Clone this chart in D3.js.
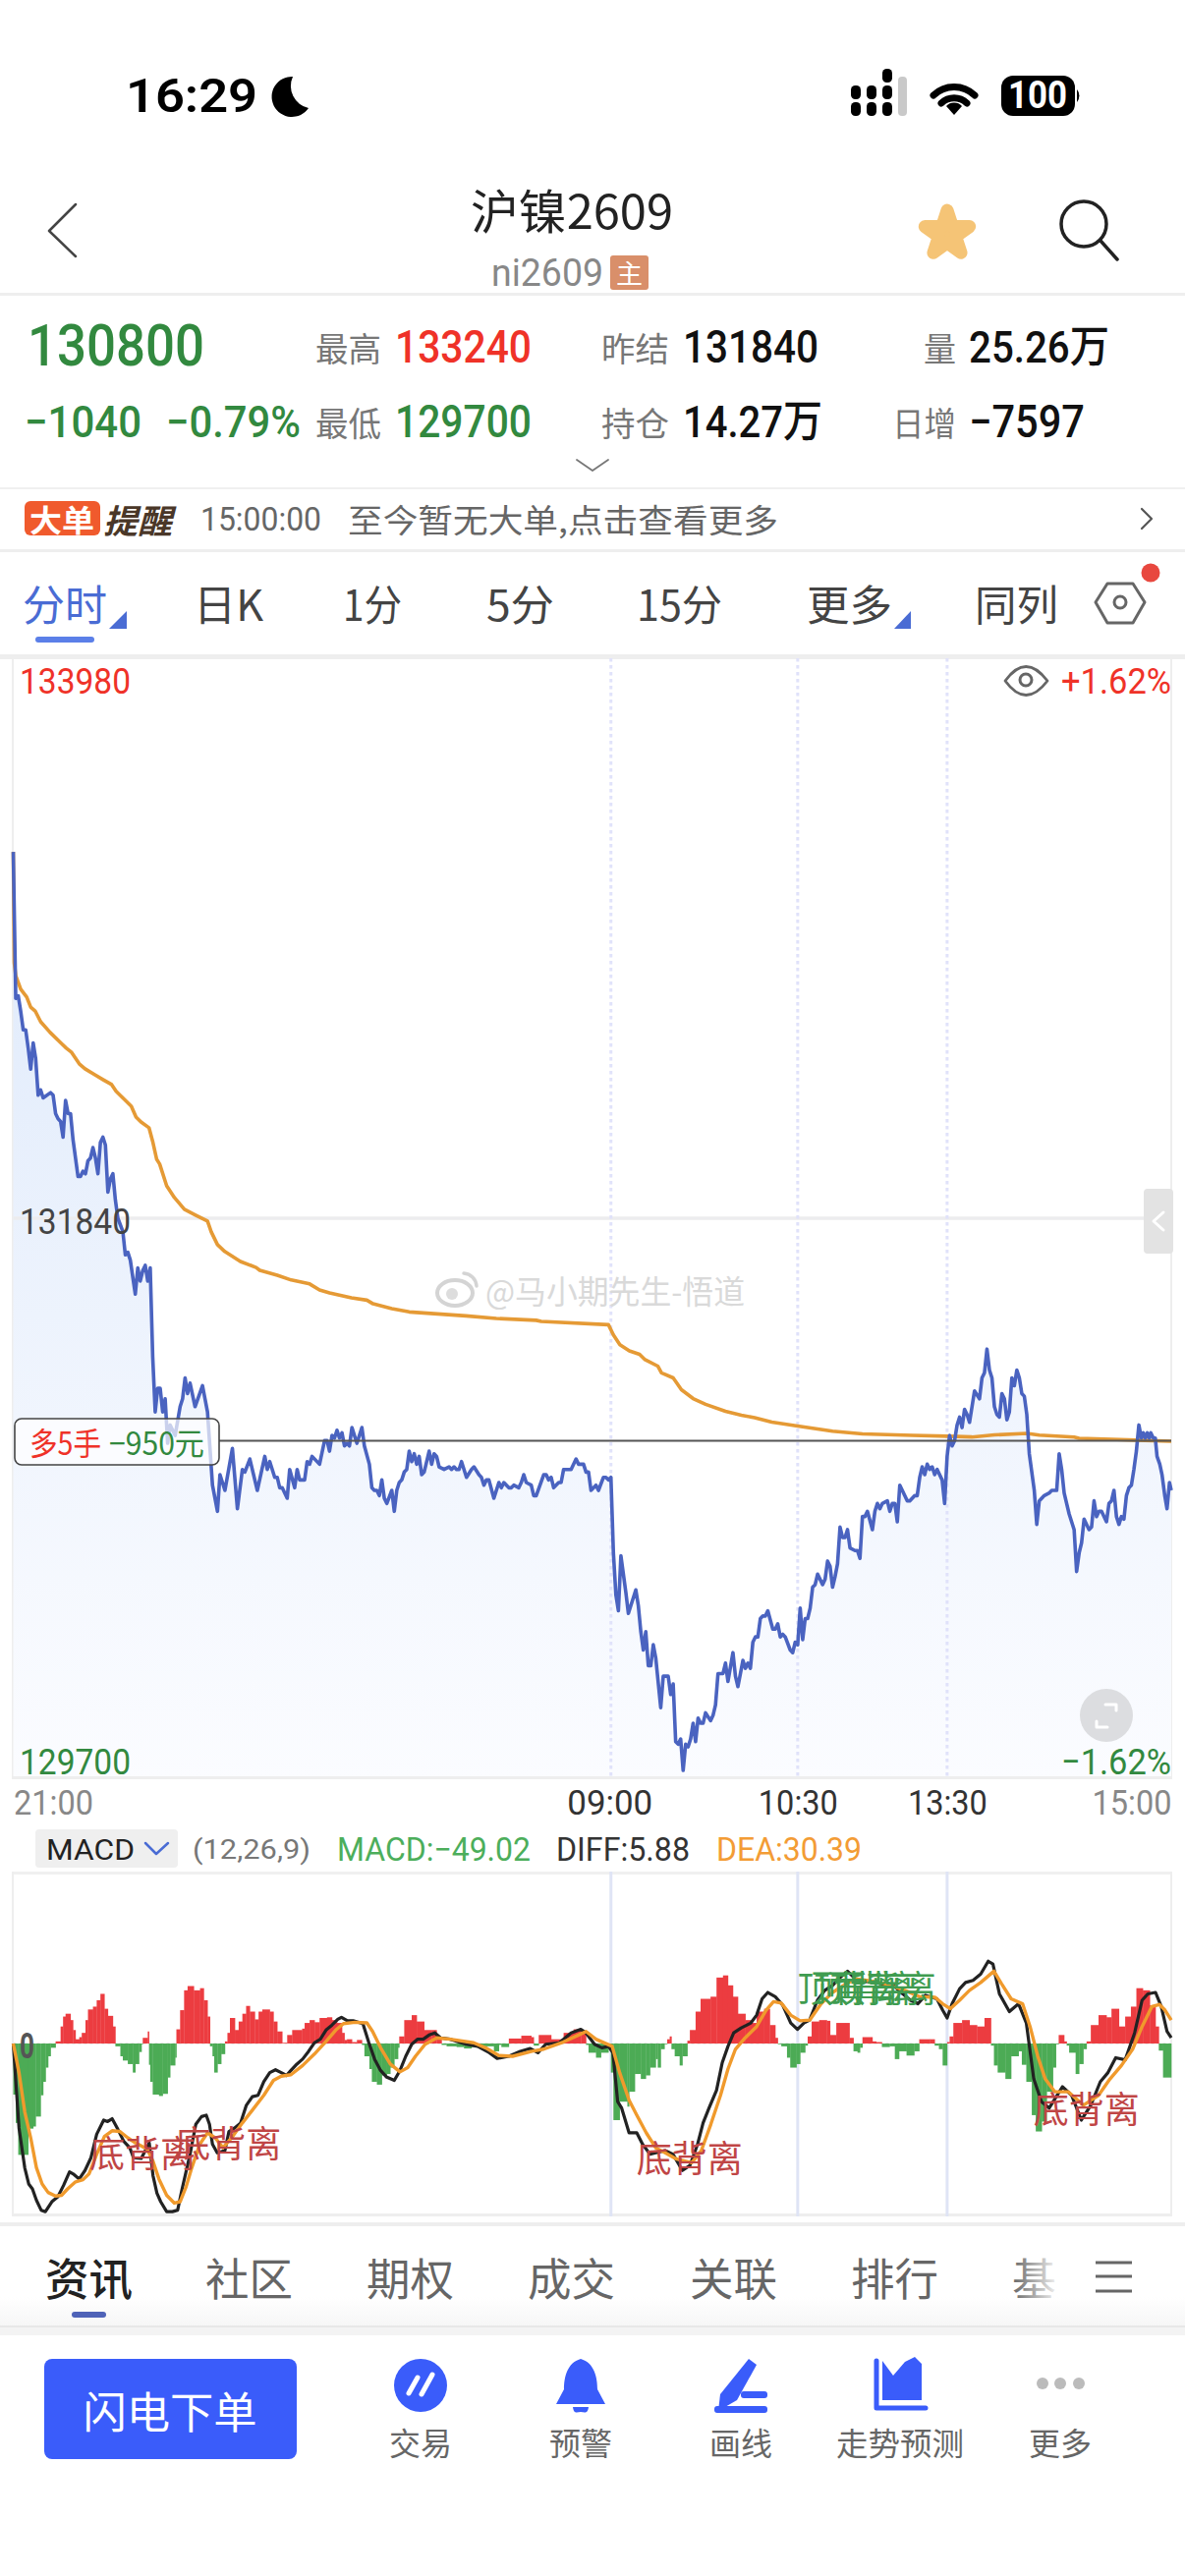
<!DOCTYPE html>
<html>
<head>
<meta charset="utf-8">
<style>
  html, body { margin: 0; padding: 0; background: #fff; }
  svg { display: block; }
</style>
<script src="https://cdn.jsdelivr.net/npm/d3@7"></script>
</head>
<body>
<svg id="page" width="1206" height="2622" viewBox="0 0 1206 2622"></svg>
<script>
// [minute since 21:00, price]
var priceTrace = [[0,133240],[1,132680],[2,132690],[3,132630],[4,132560],[5,132560],[6,132490],[7,132410],[8,132510],[9,132450],[10,132310],[11,132330],[12,132300],[15,132320],[16,132310],[17,132240],[18,132220],[19,132210],[20,132150],[21,132290],[22,132240],[23,132240],[24,132140],[26,132000],[27,132000],[28,132020],[29,132010],[30,132060],[31,132070],[32,132110],[33,132070],[34,132010],[35,132130],[36,132150],[37,132120],[38,131940],[39,131990],[40,132010],[41,131910],[42,131840],[44,131790],[45,131700],[46,131710],[47,131680],[49,131550],[50,131650],[51,131600],[52,131640],[53,131660],[54,131600],[55,131650],[56,131310],[57,131100],[58,131190],[59,131190],[60,131100],[61,131150],[62,130980],[63,131050],[65,131010],[67,131120],[68,131150],[69,131230],[70,131170],[71,131210],[73,131120],[76,131200],[78,131100],[80,130820],[82,130720],[83,130860],[85,130800],[88,130960],[90,130730],[92,130880],[93,130870],[95,130920],[98,130800],[101,130930],[102,130880],[103,130910],[105,130850],[106,130850],[107,130810],[108,130810],[110,130770],[111,130880],[113,130810],[114,130880],[115,130840],[117,130840],[118,130910],[119,130900],[120,130930],[123,130900],[125,130990],[126,130990],[127,130950],[128,131010],[129,131000],[130,131030],[131,131000],[132,131020],[133,130970],[134,130980],[135,130970],[136,131040],[138,130980],[140,131040],[141,130970],[143,130900],[144,130810],[145,130800],[146,130800],[147,130780],[148,130840],[149,130770],[150,130750],[152,130800],[153,130720],[154,130800],[155,130830],[156,130840],[157,130870],[158,130880],[159,130950],[160,130910],[161,130940],[162,130900],[163,130930],[164,130860],[165,130870],[167,130950],[168,130900],[169,130940],[170,130930],[171,130890],[173,130880],[175,130890],[176,130880],[177,130890],[178,130880],[179,130880],[180,130910],[182,130850],[184,130880],[185,130890],[187,130860],[188,130850],[189,130820],[190,130840],[191,130840],[193,130770],[195,130830],[196,130810],[197,130830],[199,130810],[200,130810],[201,130820],[203,130810],[204,130830],[205,130860],[206,130830],[208,130820],[209,130780],[210,130780],[213,130860],[214,130860],[215,130840],[216,130850],[217,130810],[219,130830],[220,130830],[221,130880],[224,130880],[226,130920],[227,130900],[229,130900],[230,130870],[231,130870],[232,130800],[234,130820],[235,130800],[237,130850],[238,130850],[239,130840],[240,130850],
[241,130560],[242,130400],[243,130340],[244,130550],[246,130410],[247,130330],[250,130420],[251,130360],[252,130260],[253,130190],[254,130260],[255,130130],[256,130130],[257,130210],[258,130160],[260,129970],[261,130090],[262,130090],[263,130090],[264,130020],[265,130060],[266,129840],[267,129830],[268,129850],[269,129730],[270,129830],[271,129820],[272,129850],[273,129910],[274,129840],[275,129930],[276,129910],[277,129910],[278,129950],[280,129920],[281,129940],[282,129980],[283,130100],[285,130100],[286,130140],[287,130070],[289,130180],[290,130090],[291,130050],[293,130150],[294,130120],[295,130140],[296,130120],[297,130220],[298,130240],[299,130240],[300,130310],[301,130320],[302,130320],[303,130340],[305,130270],[306,130270],[307,130290],[308,130240],[309,130250],[310,130240],[312,130190],[313,130180],[314,130220],[315,130210],[316,130350],[317,130230],[318,130310],[319,130310],[320,130350],[321,130430],[322,130440],[323,130480],[325,130440],[326,130460],[327,130530],[328,130510],[329,130430],[330,130470],[331,130520],[332,130660],[333,130620],[334,130620],[335,130650],[336,130580],[338,130570],[339,130570],[340,130540],[341,130700],[342,130700],[343,130720],[345,130650],[346,130720],[347,130750],[348,130730],[349,130750],[351,130760],[352,130720],[353,130750],[354,130750],[355,130680],[356,130820],[357,130800],[359,130760],[360,130760],[362,130780],[363,130780],[364,130850],[365,130890],[366,130860],[367,130900],[368,130880],[369,130890],[370,130860],[371,130880],[373,130840],[374,130750],
[375,130930],[376,131010],[377,130970],[378,130990],[379,131050],[380,131080],[381,131040],[382,131110],[383,131090],[384,131060],[386,131180],[388,131150],[389,131230],[390,131250],[391,131340],[392,131260],[393,131230],[394,131120],[395,131090],[396,131080],[397,131170],[398,131150],[399,131070],[400,131100],[401,131230],[402,131200],[403,131260],[404,131230],[405,131170],[406,131160],[407,131090],[408,130940],[410,130800],[411,130670],[412,130760],[414,130780],[416,130790],[417,130800],[419,130800],[420,130940],[421,130880],[422,130790],[423,130750],[424,130710],[425,130680],[426,130650],[427,130490],[428,130560],[429,130600],[430,130690],[432,130650],[433,130660],[434,130760],[435,130700],[436,130720],[437,130720],[439,130680],[440,130750],[441,130760],[442,130800],[443,130700],[444,130670],[445,130700],[446,130690],[447,130780],[448,130810],[449,130820],[450,130880],[451,130950],[452,131050],[453,131000],[453.8,131020],[454.6,131000],[455.4,131020],[456.2,131000],[456.8,131020],[457.8,131000],[458.6,131000],[459.3,130930],[460.4,130900],[461.3,130860],[462.4,130780],[463.3,130730],[464.3,130830],[465,130800]];

// average price line
var vwapTrace = [[0,133240],[0.4,132816],[1,132767],[3,132715],[5.4,132685],[7,132647],[8.8,132632],[11,132591],[14.8,132550],[19.3,132508],[21.3,132490],[23.3,132475],[26.5,132430],[28.8,132411],[32.8,132388],[36,132370],[39.5,132351],[41.3,132325],[47.4,132268],[49.3,132227],[51.3,132208],[54.5,132186],[56,132133],[57.6,132065],[58.8,132047],[61.6,131964],[64.7,131919],[68.7,131874],[73.4,131851],[78,131829],[79.5,131788],[82,131739],[84.9,131713],[91.2,131675],[97.5,131652],[99,131641],[106,131622],[111.6,131604],[119,131589],[123,131566],[127,131555],[135.8,131536],[142,131527],[144.5,131513],[152,131495],[159,131482],[181.8,131467],[194,131457],[210,131450],[212,131446],[239,131433],[241,131394],[243.6,131357],[247.4,131333],[251.5,131320],[253.5,131301],[258.8,131275],[260.3,131249],[265,131230],[268.3,131185],[273,131151],[278,131129],[286,131102],[292.4,131087],[297.7,131078],[304.6,131061],[315,131046],[329,131026],[341,131016],[361,131010],[375.4,131007],[385,131004],[394,131012],[407,131018],[412,131011],[426,131004],[428,130999],[438,130996],[451,130992],[465,130988]];

// MACD histogram, each value holds until the next minute listed
var macdBars = [[0,-72],[1,-112],[2,-157],[6,-120],[8,-117],[9,-103],[11,-73],[12,-54],[13,-34],[14,-18],[15,-6],[17,3],[19,24],[20,38],[21,42],[23,33],[24,19],[25,6],[26.5,9],[27.5,15],[29,33],[30,48],[32,52],[33.5,61],[35,70],[36.6,49],[38,39],[40,24],[41,-4],[43,-18],[44,-24],[46,-29],[48,-41],[49,-29],[50.5,-12],[51.5,-1],[52,8],[54,17],[54.5,-30],[55,-54],[56,-72],[58.5,-74],[60,-71],[62,-48],[63,-31],[65,-20],[65.5,20],[67,47],[68.6,75],[70,81],[72.5,75],[75,78],[76.5,61],[78,38],[79,-4],[80,-18],[80.7,-41],[82,-29],[83.5,-15],[85,3],[86,15],[87,36],[89,19],[90.5,31],[92,42],[93.5,53],[95,45],[97,34],[98.5,45],[100,48],[103,45],[104.5,31],[106,17],[108,1],[110,12],[112,19],[116,21],[117,29],[119,33],[121,30],[123,36],[126,37],[128,33],[130,29],[132,15],[133,5],[134,6],[136,2],[138,5],[140,-2],[141,-18],[143,-36],[144,-54],[146,-58],[148,-45],[150,-43],[151.4,-34],[153,-22],[154.5,-6],[155,10],[157,33],[160,40],[162,31],[165,19],[168,19],[170,6],[172,-2],[174,-4],[178,-5],[181,-7],[184,-5],[188,-4],[193,-11],[195,-2],[196,-5],[199,7],[204,11],[208,9],[209,-3],[211,12],[216,6],[221,15],[225,20],[228,15],[230,-2],[231,-13],[234,-20],[236,-13],[239,-3],
[240,-41],[241,-108],[243.5,-82],[246.6,-89],[247.3,-68],[249.6,-43],[252,-50],[254,-45],[255.7,-34],[258,-22],[258.8,-34],[260,-8],[261.5,-1],[262.6,6],[263.6,10],[264.3,-8],[265.6,-18],[267.6,-31],[268.7,-18],[270.7,4],[271.7,19],[274,45],[276,63],[280,66],[282.4,93],[285,96],[287,82],[289,66],[291,42],[294,33],[296,29],[298.5,45],[301.5,49],[303.8,26],[306,8],[307,-1],[308.4,-4],[310.7,-20],[312,-34],[314.5,-29],[316,-13],[318,-3],[319,10],[320.6,31],[323.6,33],[326.7,32],[328,12],[330.5,29],[334.3,29],[335.8,8],[337.4,-11],[339,-13],[340,-6],[341,9],[345,3],[346.5,2],[348.8,-5],[351.9,-4],[354,-22],[355.7,-11],[358.7,-17],[361.8,-11],[363.8,6],[368,6],[370,-3],[371.7,-8],[373.2,-31],[375,2],[376,10],[377.5,29],[381,33],[384,26],[387,24],[390,36],[392.6,-3],[393.8,-31],[395.3,-41],[398.4,-50],[400.7,-18],[403.7,-11],[405,-30],[406.8,-54],[409,-101],[410.6,-124],[413,-110],[415,-68],[417.5,-34],[418.7,-1],[419.8,12],[422,3],[423,-3],[424,-13],[426.6,-43],[428,-29],[429.7,-8],[431,3],[432.7,26],[435.8,40],[439,37],[441,49],[444,24],[446.5,38],[448.8,52],[451,78],[453.6,75],[456.4,54],[458.7,24],[460,-10],[461.7,-48],[465,-48]];

var diffTrace = [[0,0],[2.3,-119],[4.6,-175],[6.2,-198],[7.7,-205],[9.3,-221],[11.2,-235],[12.9,-237],[15.5,-223],[17.9,-216],[20.2,-200],[22.6,-181],[24.1,-184],[26.5,-191],[28.8,-179],[31.2,-161],[33.5,-128],[36.3,-108],[37.9,-110],[39.7,-106],[42,-121],[44.4,-138],[46.8,-147],[48.3,-161],[51.4,-162],[54.6,-140],[56.1,-186],[57.7,-211],[59.2,-223],[61.6,-237],[63.9,-237],[66,-235],[67.8,-205],[71,-156],[73.3,-114],[75.6,-103],[77.5,-101],[78.8,-114],[80,-142],[81.9,-154],[85,-151],[86.6,-124],[88.9,-119],[91.3,-112],[93.6,-87],[96,-75],[98.3,-73],[100.6,-54],[103,-41],[105.3,-37],[107.6,-41],[109.7,-45],[111.5,-38],[113.9,-29],[116.2,-22],[118.6,-11],[120.9,1],[123.3,6],[125.6,19],[128,26],[130.3,34],[131.8,37],[134.2,32],[136.5,32],[140.4,28],[142.8,1],[145.1,-22],[147.5,-38],[149.8,-47],[153,-52],[155.3,-38],[157.6,-18],[160,-1],[162.3,6],[164.6,6],[167,12],[169.3,15],[171.6,8],[175.5,6],[181.8,-1],[186.5,-4],[191.2,-13],[194.3,-21],[199,-18],[203.6,-11],[207.6,-7],[210.7,-13],[213.8,-1],[219.3,1],[224,15],[227.9,20],[230,15],[233.4,-1],[236.4,-6],[239,-4],[240.8,-13],[242.7,-82],[244.3,-91],[247.3,-126],[250.4,-126],[252.7,-142],[255.7,-156],[258,-154],[261.8,-151],[264.9,-156],[268.7,-179],[271.7,-172],[274.8,-142],[277,-112],[279.4,-91],[282.4,-66],[284.7,-27],[287,-4],[289.3,15],[292.3,22],[296.2,29],[298.5,40],[300.7,63],[303,72],[306,66],[309,54],[312.2,29],[314.9,20],[317.5,29],[319.8,33],[322.9,61],[325.9,75],[329,82],[332,93],[335,102],[339.6,86],[344.2,88],[348.8,84],[353.4,82],[357.2,70],[360.3,61],[363.3,56],[366.3,68],[370.9,63],[373.2,47],[375,36],[377,56],[380,77],[382.4,86],[385.4,89],[388.5,98],[391.5,116],[393.4,112],[396,70],[400,45],[403.7,56],[406.8,29],[409.8,-50],[412.9,-82],[416,-91],[421.3,-61],[425,-73],[428.9,-108],[432.7,-87],[436.5,-54],[439.6,-41],[442.7,-20],[446.5,-23],[450.3,15],[453.3,61],[455.6,70],[458.7,72],[461,52],[463.3,17],[465,8]];

var deaTrace = [[0,0],[2.3,-41],[4.6,-96],[7,-133],[9.3,-175],[11.6,-198],[14,-210],[17,-215],[19.4,-214],[21.8,-205],[25,-195],[28,-192],[30.4,-184],[33.5,-156],[36.6,-131],[39.7,-123],[42.8,-124],[46,-133],[49,-140],[53.8,-149],[56,-165],[58.5,-191],[61.6,-214],[64.7,-225],[67,-223],[69.4,-202],[71.7,-175],[74.9,-142],[78,-126],[81.1,-133],[84.2,-147],[88.1,-131],[92,-112],[96,-94],[100.6,-73],[104.5,-52],[107.6,-46],[111.5,-44],[116.2,-31],[120.9,-15],[125.6,3],[129.5,19],[132.6,28],[137.3,30],[142,29],[144.3,17],[147.5,-6],[151.4,-29],[155.3,-40],[158.4,-34],[161.5,-18],[165.4,-1],[170.1,8],[175.5,6],[184.9,1],[189.6,-6],[195,-17],[200.5,-18],[208.3,-11],[213,-8],[220.8,2],[227,12],[230,17],[234,6],[240.5,-4],[243.5,-41],[247.3,-80],[250.4,-101],[254.2,-126],[258,-147],[261.8,-154],[266.4,-163],[272.5,-168],[276.3,-151],[280.1,-114],[284,-73],[287,-36],[290,-8],[293.9,8],[298.5,24],[302.3,47],[305.3,59],[308.4,57],[312.2,40],[316,32],[319.8,33],[324.4,56],[329,72],[333.5,82],[338.1,91],[342.7,89],[350.3,84],[358,75],[364,66],[370.2,65],[373.2,56],[376.3,49],[380,61],[384,75],[388.5,86],[393.8,102],[396.9,84],[400.7,63],[405.3,56],[408.3,24],[411.4,-18],[414.4,-50],[418.2,-68],[423.6,-68],[429.7,-87],[435.8,-73],[440.4,-50],[445,-31],[449.5,-8],[453.3,24],[457.2,52],[460.2,55],[462.5,47],[465,33]];

var timeTicks = [0, 240, 315, 375, 465];
var timeLabels = ['21:00', '09:00', '10:30', '13:30', '15:00'];
var sessionBreaks = [240, 315, 375];
var priceLow = 129700, priceMid = 131840, priceHigh = 133980, costPrice = 130990;
var macdLimit = 241;
// divergence tags: [minute, MACD value]
var bottomTags = [[30.6,-152],[65,-138],[250.3,-159],[409.7,-90]];
var topTags = [315, 321.5, 328];

var svg = d3.select('#page');
var NUM = 'Roboto, "Noto Sans CJK SC", sans-serif';
var CJK = '"Noto Sans CJK SC", Roboto, sans-serif';

var x = d3.scaleLinear().domain([0, 465]).range([13.5, 1192]);
var y = d3.scaleLinear().domain([priceLow, priceHigh]).range([1810, 670]);
var yMacd = d3.scaleLinear().domain([-macdLimit, macdLimit]).range([2254, 1906]);

// small text helper
function txt(px, py, str, o) {
  o = o || {};
  var t = svg.append('text')
    .attr('x', px).attr('y', py)
    .attr('dominant-baseline', 'central')
    .attr('font-family', o.font || CJK)
    .attr('font-size', o.size || 32)
    .attr('font-weight', o.weight || 400)
    .attr('fill', o.fill || '#222')
    .attr('text-anchor', o.anchor || 'start')
    .text(str);
  if (o.len) t.attr('textLength', o.len).attr('lengthAdjust', 'spacingAndGlyphs');
  if (o.style) t.attr('font-style', o.style);
  if (o.opacity) t.attr('opacity', o.opacity);
  return t;
}
function band(x0, y0, w, h, fill, rx) {
  return svg.append('rect').attr('x', x0).attr('y', y0).attr('width', w).attr('height', h)
    .attr('fill', fill).attr('rx', rx || 0);
}
function stroke(d, color, w) {
  return svg.append('path').attr('d', d).attr('fill', 'none').attr('stroke', color)
    .attr('stroke-width', w).attr('stroke-linecap', 'round').attr('stroke-linejoin', 'round');
}
function solid(d, color) {
  return svg.append('path').attr('d', d).attr('fill', color);
}

var GREEN = '#32893f', RED = '#ef3228', GRAY = '#777', BLUE = '#4a6cd4';

// status bar
txt(128, 97, '16:29', {font: NUM, size: 48, weight: 600, fill: '#000', len: 134});
solid('M298 78 A20.5 20.5 0 1 0 314 110 A23 23 0 0 1 298 78Z', '#000');
[[866, 2], [882, 2], [898, 3]].forEach(function(c) {
  d3.range(c[1]).forEach(function(i) {
    band(c[0], 104 - i * 17, 10, 14, '#000', 4.5);
  });
});
band(914, 78, 9, 40, '#c9c9c9', 4);
stroke('M950 97 A30 30 0 0 1 992 97', '#000', 7);
stroke('M958 105 A19 19 0 0 1 984 105', '#000', 7);
solid('M963 108 A11 11 0 0 1 979 108 L971 117Z', '#000');
band(1019, 77, 75, 41, '#000', 12);
solid('M1096 91 A10 10 0 0 1 1096 104Z', '#000');
txt(1056, 97, '100', {font: NUM, size: 38, weight: 700, fill: '#fff', anchor: 'middle', len: 60});

// title bar
stroke('M77 208 L50 235 L77 261', '#444', 2.5);
txt(479, 212, '沪镍2609', {size: 48, fill: '#222', len: 206});
txt(500, 278, 'ni2609', {font: NUM, size: 38, fill: '#888', len: 114});
band(621, 260, 39, 35, '#d98f6a', 3);
txt(640.5, 277, '主', {size: 27, fill: '#fff', anchor: 'middle'});
svg.append('path').attr('d', d3.symbol().type(d3.symbolStar).size(640)())
  .attr('transform', 'translate(964,238)')
  .attr('fill', '#f5c476').attr('stroke', '#f5c476').attr('stroke-width', 13).attr('stroke-linejoin', 'round');
svg.append('circle').attr('cx', 1103).attr('cy', 228).attr('r', 23).attr('fill', 'none').attr('stroke', '#222').attr('stroke-width', 3.5);
stroke('M1120 245 L1137 264', '#222', 3.5);
band(0, 298, 1206, 3, '#eeeeee');

// quote rows
var NUMW = 500;
txt(28, 351, '130800', {font: NUM, size: 60, weight: NUMW, fill: GREEN, len: 180});
txt(321, 353, '最高', {size: 34, fill: GRAY, len: 67});
txt(402, 353, '133240', {font: NUM, size: 46, weight: NUMW, fill: RED, len: 139});
txt(612, 353, '昨结', {size: 34, fill: GRAY, len: 69});
txt(695, 353, '131840', {font: NUM, size: 46, weight: NUMW, fill: '#111', len: 138});
txt(940, 353, '量', {size: 34, fill: GRAY, len: 33});
txt(986, 353, '25.26万', {font: NUM, size: 45, weight: NUMW, fill: '#111', len: 143});
txt(25, 429, '−1040', {font: NUM, size: 45, weight: NUMW, fill: GREEN, len: 119});
txt(169, 429, '−0.79%', {font: NUM, size: 45, weight: NUMW, fill: GREEN, len: 137});
txt(321, 429, '最低', {size: 34, fill: GRAY, len: 67});
txt(402, 429, '129700', {font: NUM, size: 46, weight: NUMW, fill: GREEN, len: 139});
txt(612, 429, '持仓', {size: 34, fill: GRAY, len: 69});
txt(695, 429, '14.27万', {font: NUM, size: 45, weight: NUMW, fill: '#111', len: 142});
txt(908, 429, '日增', {size: 34, fill: GRAY, len: 65});
txt(986, 429, '−7597', {font: NUM, size: 46, weight: NUMW, fill: '#111', len: 118});
stroke('M587 468 L603 479 L619 468', '#777', 1.8);
band(0, 496, 1206, 2, '#f0f0f0');

// alert row
band(25, 510, 77, 35, '#f05a2d', 6);
txt(63, 527, '大单', {size: 31, weight: 700, fill: '#fff', anchor: 'middle', len: 66});
txt(105, 528, '提醒', {size: 34, weight: 700, fill: '#4a3728', style: 'italic', len: 70});
txt(204, 528, '15:00:00', {font: NUM, size: 34, fill: '#666', len: 123});
txt(354, 528, '至今暂无大单,点击查看更多', {size: 33, fill: '#666', len: 438});
stroke('M1162 518 L1172 528 L1162 538', '#555', 2.2);
band(0, 559, 1206, 3, '#eeeeee');

// period tabs
txt(23, 613, '分时', {size: 43, fill: BLUE, len: 86});
solid('M129 622 L129 640 L111 640Z', BLUE);
band(36, 648, 60, 6, '#5b7fe8', 3);
[['日K', 197, 71], ['1分', 349, 60], ['5分', 495, 69], ['15分', 648, 87], ['更多', 821, 87], ['同列', 992, 85]].forEach(function(t) {
  txt(t[1], 613, t[0], {size: 43, fill: '#444', len: t[2]});
});
solid('M927 622 L927 640 L910 640Z', BLUE);
stroke('M1127 594 L1153 594 L1165 613 L1153 634 L1127 634 L1115 613Z', '#666', 3);
svg.append('circle').attr('cx', 1140).attr('cy', 613).attr('r', 6).attr('fill', 'none').attr('stroke', '#666').attr('stroke-width', 3);
svg.append('circle').attr('cx', 1171).attr('cy', 583).attr('r', 9.5).attr('fill', '#e8483f');
band(0, 666, 1206, 5, '#eeeeee');

// price panel
var defs = svg.append('defs');
var grad = defs.append('linearGradient').attr('id', 'priceFill')
  .attr('gradientUnits', 'userSpaceOnUse').attr('x1', 0).attr('x2', 0).attr('y1', y(133240)).attr('y2', y(priceLow));
grad.append('stop').attr('offset', 0).attr('stop-color', '#dfeafb');
grad.append('stop').attr('offset', 1).attr('stop-color', '#fbfcff');

band(12, 670, 2, 1141, '#eeeeee');
band(1191, 670, 2, 1141, '#eeeeee');

var priceLine = d3.line().x(function(d) { return x(d[0]); }).y(function(d) { return y(d[1]); });
var priceArea = d3.area().x(function(d) { return x(d[0]); }).y0(y(priceLow)).y1(function(d) { return y(d[1]); });
svg.append('path').attr('d', priceArea(priceTrace)).attr('fill', 'url(#priceFill)');

svg.selectAll('.mid').data([priceMid]).enter().append('line').attr('class', 'mid')
  .attr('x1', x(0)).attr('x2', x(465)).attr('y1', y).attr('y2', y)
  .attr('stroke', '#ececee').attr('stroke-width', 3.5);
svg.selectAll('.sess').data(sessionBreaks).enter().append('line').attr('class', 'sess')
  .attr('x1', x).attr('x2', x).attr('y1', 670).attr('y2', 1810)
  .attr('stroke', '#e0e2fa').attr('stroke-width', 3).attr('stroke-dasharray', '3.5 3.5');

// bottom border of the panel
band(12, 1808, 1181, 3, '#eeeeee');

// watermark
svg.append('ellipse').attr('cx', 463).attr('cy', 1316).attr('rx', 18).attr('ry', 13).attr('fill', 'none').attr('stroke', '#d4d4d4').attr('stroke-width', 4);
svg.append('circle').attr('cx', 460).attr('cy', 1317).attr('r', 6).attr('fill', '#ddd');
stroke('M472 1296 A14 14 0 0 1 485 1309', '#d4d4d4', 3.5);
txt(494, 1313, '@马小期先生-悟道', {size: 33, fill: '#d9d9d9', len: 264});

svg.append('path').attr('d', priceLine(vwapTrace)).attr('fill', 'none').attr('stroke', '#e59a35').attr('stroke-width', 3.6).attr('stroke-linejoin', 'round');
svg.append('path').attr('d', priceLine(priceTrace)).attr('fill', 'none').attr('stroke', '#4a63c0').attr('stroke-width', 3.6).attr('stroke-linejoin', 'round');

// held position line and its tag
svg.append('line').attr('x1', 223).attr('x2', x(465)).attr('y1', y(costPrice)).attr('y2', y(costPrice))
  .attr('stroke', '#555').attr('stroke-width', 2);
svg.append('rect').attr('x', 15).attr('y', 1444).attr('width', 208).attr('height', 47).attr('rx', 7)
  .attr('fill', '#fff').attr('fill-opacity', 0.7).attr('stroke', '#444').attr('stroke-width', 1.6);
txt(30, 1467, '多5手', {size: 32, fill: RED, len: 73});
txt(111, 1467, '−950元', {size: 32, fill: GREEN, len: 97});

txt(20, 693, '133980', {font: NUM, size: 37, fill: RED, len: 113});
txt(20, 1243, '131840', {font: NUM, size: 37, fill: '#444', len: 113});
txt(20, 1793, '129700', {font: NUM, size: 37, fill: GREEN, len: 113});
txt(1080, 693, '+1.62%', {font: NUM, size: 37, fill: RED, len: 112});
txt(1080, 1793, '−1.62%', {font: NUM, size: 37, fill: GREEN, len: 112});

// eye icon
stroke('M1023 693 Q1044 664 1066 693 Q1044 722 1023 693Z', '#666', 2.8);
svg.append('circle').attr('cx', 1044).attr('cy', 692).attr('r', 6).attr('fill', 'none').attr('stroke', '#666').attr('stroke-width', 3);

// side handle and expand button
band(1164, 1210, 30, 66, '#e3e3e3', 4);
stroke('M1184 1234 L1174 1243 L1184 1252', '#fff', 3);
svg.append('circle').attr('cx', 1126).attr('cy', 1746).attr('r', 27).attr('fill', '#dcdde0');
stroke('M1116 1752 L1116 1758 L1127 1758', '#fff', 3);
stroke('M1125 1735 L1136 1735 L1136 1741', '#fff', 3);

// time axis
var axisG = svg.append('g').attr('transform', 'translate(0,1812)')
  .call(d3.axisBottom(x).tickValues(timeTicks).tickSize(0).tickPadding(0)
    .tickFormat(function(d, i) { return timeLabels[i]; }));
axisG.select('.domain').remove();
axisG.selectAll('text')
  .attr('y', 23).attr('dy', 0).attr('dominant-baseline', 'central')
  .attr('font-family', NUM).attr('font-size', 35)
  .attr('textLength', function(d) { return d === 240 ? 87 : 81; }).attr('lengthAdjust', 'spacingAndGlyphs')
  .attr('dx', function(d) { return d === 240 ? -1.5 : 0; })
  .attr('fill', function(d) { return d === 0 || d === 465 ? '#888' : '#333'; })
  .attr('text-anchor', function(d) { return d === 0 ? 'start' : d === 465 ? 'end' : 'middle'; });

// MACD header
band(36, 1862, 145, 39, '#efefef', 4);
txt(47, 1882, 'MACD', {font: NUM, size: 30, fill: '#222', len: 90});
stroke('M148 1876 L159 1887 L171 1876', BLUE, 2.5);
txt(196, 1882, '(12,26,9)', {font: NUM, size: 28, fill: '#777', len: 120});
txt(343, 1882, 'MACD:−49.02', {font: NUM, size: 33, fill: '#4cae5b', len: 197});
txt(566, 1882, 'DIFF:5.88', {font: NUM, size: 33, fill: '#333', len: 136});
txt(729, 1882, 'DEA:30.39', {font: NUM, size: 33, fill: '#f39c35', len: 148});

// MACD panel
band(12, 1905, 1181, 3, '#f0f0f0');
band(12, 1905, 2, 350, '#eeeeee');
band(1191, 1905, 2, 350, '#eeeeee');
band(12, 2253, 1181, 3, '#eeeeee');
svg.selectAll('.macdSess').data(sessionBreaks).enter().append('line').attr('class', 'macdSess')
  .attr('x1', x).attr('x2', x).attr('y1', 1905).attr('y2', 2256)
  .attr('stroke', '#dfe4f5').attr('stroke-width', 3);
svg.append('line').attr('x1', x(0)).attr('x2', x(465)).attr('y1', yMacd(0)).attr('y2', yMacd(0))
  .attr('stroke', '#e8e8e8').attr('stroke-width', 2).attr('stroke-dasharray', '3 3');

svg.selectAll('.bar').data(macdBars.slice(0, -1)).enter().append('rect').attr('class', 'bar')
  .attr('x', function(d) { return x(d[0]); })
  .attr('width', function(d, i) { return x(macdBars[i + 1][0]) - x(d[0]) + 0.3; })
  .attr('y', function(d) { return Math.min(yMacd(d[1]), yMacd(0)); })
  .attr('height', function(d) { return Math.abs(yMacd(d[1]) - yMacd(0)); })
  .attr('fill', function(d) { return d[1] >= 0 ? '#ec3c40' : '#4cab55'; });

var macdLine = d3.line().x(function(d) { return x(d[0]); }).y(function(d) { return yMacd(d[1]); });
svg.append('path').attr('d', macdLine(diffTrace)).attr('fill', 'none').attr('stroke', '#222').attr('stroke-width', 3.2).attr('stroke-linejoin', 'round');
svg.append('path').attr('d', macdLine(deaTrace)).attr('fill', 'none').attr('stroke', '#f09a2c').attr('stroke-width', 3.4).attr('stroke-linejoin', 'round');

txt(20, 2083, '0', {font: NUM, size: 36, weight: 700, fill: '#555', len: 15});
bottomTags.forEach(function(t) {
  txt(x(t[0]), yMacd(t[1]), '底背离', {size: 37, fill: '#c04545', len: 108});
});
topTags.forEach(function(m) {
  txt(x(m), 2022, '顶背离', {size: 37, fill: '#3f9c50', len: 108});
});

// bottom tabs
band(0, 2262, 1206, 4, '#eeeeee');
var fade = defs.append('linearGradient').attr('id', 'tabFade').attr('x1', 0).attr('x2', 0).attr('y1', 0).attr('y2', 1);
fade.append('stop').attr('offset', 0).attr('stop-color', '#fff');
fade.append('stop').attr('offset', 1).attr('stop-color', '#f6f6f6');
band(0, 2338, 1206, 30, 'url(#tabFade)');
band(0, 2367, 1206, 2, '#e8e8e8');
band(0, 2369, 1206, 8, '#f3f3f3');
txt(46, 2317, '资讯', {size: 45, weight: 500, fill: '#222', len: 89});
[['社区', 209], ['期权', 373], ['成交', 537], ['关联', 702], ['排行', 866]].forEach(function(t) {
  txt(t[1], 2317, t[0], {size: 45, fill: '#666', len: 89});
});
var baseFade = defs.append('linearGradient').attr('id', 'edgeFade');
baseFade.append('stop').attr('offset', 0).attr('stop-color', '#666');
baseFade.append('stop').attr('offset', 1).attr('stop-color', '#eeeeee');
txt(1030, 2317, '基', {size: 45, fill: 'url(#edgeFade)'});
[2303, 2317, 2332].forEach(function(ly) { band(1115, ly - 1.5, 37, 3, '#666'); });
band(73, 2353, 35, 6, '#4f63b8', 3);

// bottom actions
band(45, 2401, 257, 102, '#3a5cfa', 8);
txt(173, 2453, '闪电下单', {size: 44, fill: '#fff', anchor: 'middle', len: 177});
var ICON = '#3a5cfa';
svg.append('circle').attr('cx', 428).attr('cy', 2428).attr('r', 27).attr('fill', ICON);
stroke('M425 2420 L416 2436', '#fff', 5);
stroke('M440 2417 L429 2437', '#fff', 5);
solid('M591 2401 C605 2405 608 2420 608 2432 L616 2447 L566 2447 L574 2432 C574 2420 577 2405 591 2401Z', ICON);
solid('M583 2450 L599 2450 C598 2458 594 2455 591 2455 C588 2455 584 2458 583 2450Z', ICON);
solid('M762 2401 L770 2407 L750 2443 L731 2454 L733 2437Z', ICON);
band(754, 2434, 27, 7, ICON, 3);
band(727, 2449, 54, 7, ICON, 3);
stroke('M892 2403 L892 2451 L942 2451', ICON, 5);
solid('M898 2403 L909 2418 L921 2404 L931 2399 L938 2406 L938 2443 L898 2443Z', ICON);
[1061, 1079, 1098].forEach(function(cx) {
  svg.append('circle').attr('cx', cx).attr('cy', 2426).attr('r', 6).attr('fill', '#bbb');
});
[['交易', 428, 64], ['预警', 591, 64], ['画线', 754, 64], ['走势预测', 916, 130], ['更多', 1079, 64]].forEach(function(t) {
  txt(t[1], 2485, t[0], {size: 32, fill: '#666', anchor: 'middle', len: t[2]});
});
</script>
</body>
</html>
